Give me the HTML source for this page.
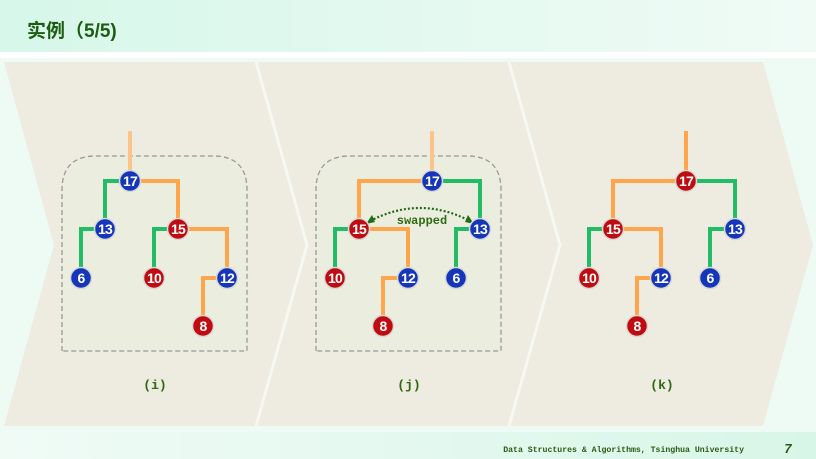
<!DOCTYPE html>
<html><head><meta charset="utf-8"><style>
html,body{margin:0;padding:0;width:816px;height:459px;overflow:hidden;background:#eefaf4}
svg{display:block}
</style></head><body>
<svg width="816" height="459" viewBox="0 0 816 459" xmlns="http://www.w3.org/2000/svg">
<defs>
<linearGradient id="hg" x1="0" x2="1" y1="0" y2="0"><stop offset="0" stop-color="#d6f7e9"/><stop offset="1" stop-color="#f0fbf6"/></linearGradient>
<linearGradient id="fg" x1="0" x2="1" y1="0" y2="0"><stop offset="0" stop-color="#f0fbf6"/><stop offset="1" stop-color="#d8f6e8"/></linearGradient>
</defs>
<rect x="0" y="0" width="816" height="52" fill="url(#hg)"/>
<rect x="0" y="52" width="816" height="6" fill="#ffffff"/>
<rect x="0" y="432" width="816" height="27" fill="url(#fg)"/>
<text x="27" y="37" font-family="'Liberation Sans','Noto Sans CJK SC',sans-serif" font-size="19" font-weight="bold" fill="#1e5c12">实例（5/5)</text>
<polygon points="4,62 763,62 813,245 763,426 4,426 54,245" fill="#eeebe0"/>
<polyline points="256,62 307,245 256,426" fill="none" stroke="#f6f8f2" stroke-width="3"/>
<polyline points="509,62 560,245 509,426" fill="none" stroke="#f6f8f2" stroke-width="3"/>
<g fill="#ebeedf" stroke="#999" stroke-width="1.3" stroke-dasharray="5,3">
<path d="M62,351 V190 Q62,156 96,156 H213 Q247,156 247,190 V351 Z"/>
<path d="M316,351 V190 Q316,156 350,156 H467 Q501,156 501,190 V351 Z"/>
</g>
<g fill="none" stroke-width="4" stroke-linejoin="miter">
<line x1="130" y1="131" x2="130" y2="181" stroke="#fcc38a"/>
<polyline points="130,181 105,181 105,229" stroke="#22bb66"/>
<polyline points="130,181 178,181 178,229" stroke="#ffa64d"/>
<polyline points="105,229 81,229 81,278" stroke="#22bb66"/>
<polyline points="178,229 154,229 154,278" stroke="#22bb66"/>
<polyline points="178,229 227,229 227,278" stroke="#ffa64d"/>
<polyline points="227,278 203,278 203,326" stroke="#ffa64d"/>
<line x1="432" y1="131" x2="432" y2="181" stroke="#fcc38a"/>
<polyline points="432,181 359,181 359,229" stroke="#ffa64d"/>
<polyline points="432,181 480,181 480,229" stroke="#22bb66"/>
<polyline points="359,229 335,229 335,278" stroke="#22bb66"/>
<polyline points="359,229 408,229 408,278" stroke="#ffa64d"/>
<polyline points="480,229 456,229 456,278" stroke="#22bb66"/>
<polyline points="408,278 383,278 383,326" stroke="#ffa64d"/>
<line x1="686" y1="131" x2="686" y2="181" stroke="#ffa64d"/>
<polyline points="686,181 613,181 613,229" stroke="#ffa64d"/>
<polyline points="686,181 735,181 735,229" stroke="#22bb66"/>
<polyline points="613,229 589,229 589,278" stroke="#22bb66"/>
<polyline points="613,229 661,229 661,278" stroke="#ffa64d"/>
<polyline points="735,229 710,229 710,278" stroke="#22bb66"/>
<polyline points="661,278 637,278 637,326" stroke="#ffa64d"/>
</g>
<path d="M370,221 Q420,195 470,221" fill="none" stroke="#1f6d12" stroke-width="2.2" stroke-dasharray="2,2"/>
<polygon points="366,224 372,215 375,222" fill="#1f6d12"/>
<polygon points="474,224 468,215 465,222" fill="#1f6d12"/>
<text x="422" y="224" text-anchor="middle" font-family="'Liberation Mono',monospace" font-size="12" font-weight="bold" fill="#2f6a12">swapped</text>
<g stroke="#d8d8d8" stroke-width="1.5">
<g fill="#1536b8">
<circle cx="130" cy="181" r="10.5"/><circle cx="105" cy="229" r="10.5"/><circle cx="81" cy="278" r="10.5"/><circle cx="227" cy="278" r="10.5"/>
<circle cx="432" cy="181" r="10.5"/><circle cx="480" cy="229" r="10.5"/><circle cx="456" cy="278" r="10.5"/><circle cx="408" cy="278" r="10.5"/>
<circle cx="735" cy="229" r="10.5"/><circle cx="710" cy="278" r="10.5"/><circle cx="661" cy="278" r="10.5"/>
</g>
<g fill="#c00c10">
<circle cx="178" cy="229" r="10.5"/><circle cx="154" cy="278" r="10.5"/><circle cx="203" cy="326" r="10.5"/>
<circle cx="359" cy="229" r="10.5"/><circle cx="335" cy="278" r="10.5"/><circle cx="383" cy="326" r="10.5"/>
<circle cx="686" cy="181" r="10.5"/><circle cx="613" cy="229" r="10.5"/><circle cx="589" cy="278" r="10.5"/><circle cx="637" cy="326" r="10.5"/>
</g>
</g>
<g fill="#fff" font-family="'Liberation Sans',sans-serif" font-size="14" font-weight="bold" text-anchor="middle" letter-spacing="-0.8">
<text x="130" y="186">17</text><text x="105" y="234">13</text><text x="178" y="234">15</text><text x="81" y="283">6</text><text x="154" y="283">10</text><text x="227" y="283">12</text><text x="203" y="331">8</text>
<text x="432" y="186">17</text><text x="359" y="234">15</text><text x="480" y="234">13</text><text x="335" y="283">10</text><text x="408" y="283">12</text><text x="456" y="283">6</text><text x="383" y="331">8</text>
<text x="686" y="186">17</text><text x="613" y="234">15</text><text x="735" y="234">13</text><text x="589" y="283">10</text><text x="661" y="283">12</text><text x="710" y="283">6</text><text x="637" y="331">8</text>
</g>
<g font-family="'Liberation Mono',monospace" font-size="13" font-weight="bold" fill="#2f6a12" text-anchor="middle">
<text x="155" y="389">(i)</text><text x="409" y="389">(j)</text><text x="662" y="389">(k)</text>
</g>
<text x="744" y="452" text-anchor="end" font-family="'Liberation Mono',monospace" font-size="8.2" font-weight="bold" fill="#2a5a12">Data Structures &amp; Algorithms, Tsinghua University</text>
<text x="788" y="453" text-anchor="middle" font-family="'Liberation Sans',sans-serif" font-size="13" font-weight="bold" font-style="italic" fill="#2a5a12">7</text>
</svg>
</body></html>
